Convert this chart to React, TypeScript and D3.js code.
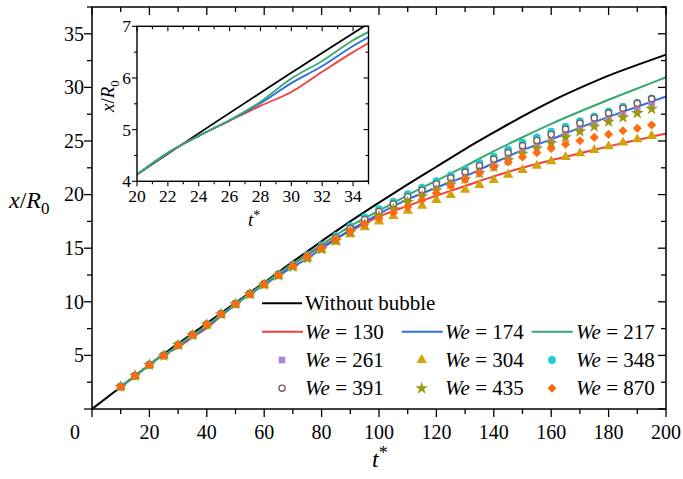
import React from "react";
import * as d3 from "d3";

// time axis samples
const tBlack = [0, 10, 20, 30, 40, 50, 60, 70, 80, 90, 100, 110, 120, 130, 140, 150, 160, 170, 180, 190, 200];
const xBlack = [0, 2.05, 4.13, 6.1, 8.0, 9.9, 11.8, 13.75, 15.65, 17.5, 19.25, 20.95, 22.6, 24.25, 25.8, 27.3, 28.7, 29.95, 31.1, 32.1, 33.05];

const tLine = [10, 15, 20, 22, 24, 26, 28, 30, 32, 34, 36, 38, 40, 45, 50, 55, 60, 65, 70, 75, 80, 85, 90, 95, 100, 110, 120, 130, 140, 150, 160, 170, 180, 190, 200];
const xWe130 = [2.08, 3.1, 4.13, 4.55, 4.88, 5.17, 5.46, 5.73, 6.12, 6.5, 6.85, 7.2, 7.55, 8.7, 9.8, 10.75, 11.7, 12.6, 13.5, 14.35, 15.15, 15.9, 16.6, 17.3, 17.95, 18.95, 19.9, 20.8, 21.7, 22.5, 23.2, 23.85, 24.5, 25.1, 25.7];
const xWe174 = [2.08, 3.1, 4.13, 4.55, 4.88, 5.18, 5.51, 5.9, 6.23, 6.62, 6.95, 7.3, 7.7, 8.7, 9.75, 10.7, 11.6, 12.45, 13.25, 14.05, 14.95, 15.85, 16.7, 17.45, 18.2, 19.55, 20.65, 21.7, 22.95, 24.15, 25.15, 26.25, 27.25, 28.2, 29.15];
const xWe217 = [2.08, 3.1, 4.13, 4.55, 4.88, 5.18, 5.54, 5.99, 6.33, 6.73, 7.05, 7.42, 7.8, 8.8, 9.8, 10.75, 11.7, 12.65, 13.55, 14.45, 15.35, 16.2, 17.05, 17.8, 18.5, 19.95, 21.3, 22.65, 24.05, 25.35, 26.6, 27.75, 28.85, 29.9, 30.95];

const tMark = [10, 15, 20, 25, 30, 35, 40, 45, 50, 55, 60, 65, 70, 75, 80, 85, 90, 95, 100, 105, 110, 115, 120, 125, 130, 135, 140, 145, 150, 155, 160, 165, 170, 175, 180, 185, 190, 195];
const xWe261 = [2.08, 3.1, 4.12, 4.98, 5.97, 6.9, 7.88, 8.85, 9.8, 10.72, 11.62, 12.5, 13.3, 14.1, 15.0, 15.85, 16.65, 17.45, 18.2, 18.88, 19.55, 20.12, 20.7, 21.25, 21.8, 22.35, 22.9, 23.5, 24.1, 24.6, 25.1, 25.6, 26.1, 26.6, 27.05, 27.55, 28.0, 28.5];
const xWe304 = [2.06, 3.08, 4.1, 4.95, 5.93, 6.85, 7.82, 8.8, 9.75, 10.66, 11.55, 12.4, 13.25, 14.05, 14.85, 15.6, 16.3, 16.95, 17.5, 18.0, 18.5, 18.95, 19.5, 19.95, 20.45, 20.9, 21.35, 21.85, 22.3, 22.7, 23.1, 23.5, 23.85, 24.15, 24.5, 24.85, 25.15, 25.47];
const xWe348 = [2.1, 3.12, 4.14, 5.0, 6.0, 6.93, 7.92, 8.9, 9.85, 10.78, 11.7, 12.6, 13.5, 14.35, 15.25, 16.15, 17.05, 17.9, 18.65, 19.35, 20.05, 20.65, 21.25, 21.8, 22.35, 22.95, 23.55, 24.2, 24.85, 25.34, 25.87, 26.34, 26.85, 27.3, 27.75, 28.2, 28.58, 28.98];
const xWe391 = [2.08, 3.1, 4.12, 4.98, 5.98, 6.92, 7.9, 8.88, 9.82, 10.75, 11.66, 12.55, 13.42, 14.25, 15.12, 16.0, 16.85, 17.68, 18.42, 19.12, 19.8, 20.4, 21.0, 21.55, 22.1, 22.7, 23.3, 23.9, 24.55, 25.05, 25.6, 26.1, 26.65, 27.15, 27.6, 28.05, 28.5, 28.93];
const xWe435 = [2.08, 3.1, 4.12, 4.97, 5.96, 6.89, 7.87, 8.84, 9.78, 10.7, 11.6, 12.45, 13.25, 14.05, 14.9, 15.7, 16.5, 17.25, 18.0, 18.65, 19.3, 19.85, 20.4, 20.95, 21.45, 22.0, 22.6, 23.2, 23.8, 24.3, 24.8, 25.35, 25.9, 26.35, 26.8, 27.2, 27.6, 28.0];
const xWe870 = [2.08, 3.1, 4.1, 4.97, 5.97, 6.9, 7.9, 8.86, 9.8, 10.7, 11.63, 12.5, 13.37, 14.27, 15.05, 15.85, 16.6, 17.25, 17.8, 18.3, 18.85, 19.5, 20.15, 20.8, 21.4, 22.0, 22.55, 23.05, 23.5, 23.9, 24.3, 24.69, 25.03, 25.34, 25.62, 25.96, 26.18, 26.5];

const xTicks = [0, 20, 40, 60, 80, 100, 120, 140, 160, 180, 200];
const yTicks = [5, 10, 15, 20, 25, 30, 35];
const insetXTicks = [20, 22, 24, 26, 28, 30, 32, 34];
const insetYTicks = [4, 5, 6, 7];

const FF = "Liberation Serif";
const ff = { fontFamily: "'Liberation Serif'" };

type LineSeries = { name: string; t: number[]; v: number[]; color: string; label: string };
type MarkSeries = { name: string; v: number[]; color: string; shape: string; label: string };

const lines: LineSeries[] = [
  { name: "nob", t: tBlack, v: xBlack, color: "#000000", label: "Without bubble" },
  { name: "130", t: tLine, v: xWe130, color: "#f2403e", label: "130" },
  { name: "174", t: tLine, v: xWe174, color: "#2a6fe0", label: "174" },
  { name: "217", t: tLine, v: xWe217, color: "#38a86e", label: "217" },
];

const marks: MarkSeries[] = [
  { name: "261", v: xWe261, color: "#b07fe6", shape: "square", label: "261" },
  { name: "304", v: xWe304, color: "#d4a20c", shape: "triangle", label: "304" },
  { name: "348", v: xWe348, color: "#22ccd0", shape: "circle", label: "348" },
  { name: "391", v: xWe391, color: "#7a5858", shape: "open", label: "391" },
  { name: "435", v: xWe435, color: "#9a9a12", shape: "star", label: "435" },
  { name: "870", v: xWe870, color: "#ff6a12", shape: "diamond", label: "870" },
];

function Marker({ shape, color, x, y }: { shape: string; color: string; x: number; y: number }) {
  if (shape === "circle") return <circle cx={x} cy={y} r={3.9} fill={color} />;
  if (shape === "open") return <circle cx={x} cy={y} r={3.1} fill="#fff" stroke={color} strokeWidth={1.3} />;
  if (shape === "square") return <rect x={x - 3.3} y={y - 3.3} width={6.6} height={6.6} fill={color} />;
  if (shape === "diamond")
    return <rect x={x - 3.2} y={y - 3.2} width={6.4} height={6.4} fill={color} transform={`rotate(45 ${x} ${y})`} />;
  const type = shape === "triangle" ? d3.symbolTriangle : d3.symbolStar;
  const size = shape === "triangle" ? 46 : 50;
  return <path d={d3.symbol(type, size)() || ""} fill={color} transform={`translate(${x},${y})`} />;
}

function T(props: any) {
  return <text fontFamily={FF} style={ff} {...props} />;
}

function WeText({ x, y, value, size }: { x: number; y: number; value: string; size: number }) {
  return (
    <T x={x} y={y} fontSize={size}>
      <tspan fontStyle="italic">We</tspan>
      <tspan> = {value}</tspan>
    </T>
  );
}

export default function App() {
  const W = 683, H = 479;
  const m = { l: 92, r: 666, t: 7, b: 409 };
  const x = d3.scaleLinear().domain([0, 200]).range([m.l, m.r]);
  const y = d3.scaleLinear().domain([0, 37.5]).range([m.b, m.t]);

  const ins = { l: 137, r: 368.5, t: 26.3, b: 181.3 };
  const ix = d3.scaleLinear().domain([20, 35]).range([ins.l, ins.r]);
  const iy = d3.scaleLinear().domain([4, 7]).range([ins.b, ins.t]);

  const mainLine = (s: LineSeries) =>
    d3.line<number>().x((_, i) => x(s.t[i])).y((d) => y(d)).curve(d3.curveMonotoneX)(s.v) || "";
  const insetLine = (s: LineSeries) =>
    d3.line<number>().x((_, i) => ix(s.t[i])).y((d) => iy(d)).curve(d3.curveMonotoneX)(s.v) || "";

  const minorX = d3.range(0, 201, 10);
  const minorY = d3.range(0, 37.6, 2.5);
  const iMinorX = d3.range(20, 35.01, 1);
  const iMinorY = d3.range(4, 7.01, 0.5);

  // legend layout
  const rowY = [303.3, 331.7, 360, 388.3];
  const colLine = [262, 401.7, 531.7];
  const colMark = [282, 421.7, 552];
  const colText = [305, 445, 576];
  const fs = 21;

  return (
    <div style={{ position: "absolute", left: 0, top: 0, fontFamily: "'Liberation Serif'" }}>
      <svg width={W} height={H}>
        <rect width={W} height={H} fill="#fff" />
        <defs>
          <clipPath id="insetClip">
            <rect x={ins.l} y={ins.t} width={ins.r - ins.l} height={ins.b - ins.t} />
          </clipPath>
        </defs>

        {/* main data */}
        {lines.map((s) => (
          <path key={s.name} d={mainLine(s)} fill="none" stroke={s.color} strokeWidth={2} />
        ))}
        {marks.map((s) => (
          <g key={s.name}>
            {s.v.map((v, i) => (
              <Marker key={i} shape={s.shape} color={s.color} x={x(tMark[i])} y={y(v)} />
            ))}
          </g>
        ))}

        {/* main frame and ticks */}
        <rect x={m.l} y={m.t} width={m.r - m.l} height={m.b - m.t} fill="none" stroke="#000" strokeWidth={1.5} />
        {minorX.map((t) => {
          const len = t % 20 === 0 ? 8 : 5;
          return (
            <g key={"mx" + t} stroke="#000" strokeWidth={1.3}>
              <line x1={x(t)} x2={x(t)} y1={m.b} y2={m.b + len} />
              <line x1={x(t)} x2={x(t)} y1={m.t} y2={m.t + len} />
            </g>
          );
        })}
        {minorY.map((v) => {
          const len = v % 5 === 0 ? 8 : 5;
          return (
            <g key={"my" + v} stroke="#000" strokeWidth={1.3}>
              <line x1={m.l - len} x2={m.l} y1={y(v)} y2={y(v)} />
              <line x1={m.r - len} x2={m.r} y1={y(v)} y2={y(v)} />
            </g>
          );
        })}
        {xTicks.map((t) => (
          <T key={"xl" + t} x={t === 0 ? 75 : x(t)} y={439} textAnchor="middle" fontSize={20}>
            {t}
          </T>
        ))}
        {yTicks.map((v) => (
          <T key={"yl" + v} x={84} y={y(v)} dy="0.34em" textAnchor="end" fontSize={20}>
            {v}
          </T>
        ))}
        <T x={9} y={208} fontSize={24}>
          <tspan fontStyle="italic">x</tspan>
          <tspan>/</tspan>
          <tspan fontStyle="italic">R</tspan>
          <tspan fontSize={17} dy={6}>0</tspan>
        </T>
        <T x={372} y={467} fontSize={24}>
          <tspan fontStyle="italic">t</tspan>
          <tspan fontSize={18} dy={-8}>*</tspan>
        </T>

        {/* legend */}
        <line x1={colLine[0]} x2={colLine[0] + 40} y1={rowY[0]} y2={rowY[0]} stroke="#000" strokeWidth={2} />
        <T x={colText[0]} y={rowY[0] + 7} fontSize={fs}>Without bubble</T>
        {lines.slice(1).map((s, i) => (
          <g key={"lg" + s.name}>
            <line x1={colLine[i]} x2={colLine[i] + 41} y1={rowY[1]} y2={rowY[1]} stroke={s.color} strokeWidth={2} />
            <WeText x={colText[i]} y={rowY[1] + 7} value={s.label} size={fs} />
          </g>
        ))}
        {marks.map((s, i) => {
          const row = 2 + Math.floor(i / 3);
          const col = i % 3;
          return (
            <g key={"lm" + s.name}>
              <Marker shape={s.shape} color={s.color} x={colMark[col]} y={rowY[row]} />
              <WeText x={colText[col]} y={rowY[row] + 7} value={s.label} size={fs} />
            </g>
          );
        })}

        {/* inset */}
        <rect x={ins.l} y={ins.t} width={ins.r - ins.l} height={ins.b - ins.t} fill="#fff" />
        <g clipPath="url(#insetClip)">
          {lines.map((s) => (
            <path key={"in" + s.name} d={insetLine(s)} fill="none" stroke={s.color} strokeWidth={1.8} />
          ))}
        </g>
        <rect x={ins.l} y={ins.t} width={ins.r - ins.l} height={ins.b - ins.t} fill="none" stroke="#000" strokeWidth={1.4} />
        {iMinorX.map((t) => {
          const len = Math.round(t) % 2 === 0 ? 5 : 3;
          return (
            <g key={"ix" + t} stroke="#000" strokeWidth={1.1}>
              <line x1={ix(t)} x2={ix(t)} y1={ins.b} y2={ins.b + len} />
              <line x1={ix(t)} x2={ix(t)} y1={ins.t} y2={ins.t + len} />
            </g>
          );
        })}
        {iMinorY.map((v) => {
          const len = Math.abs(v - Math.round(v)) < 1e-6 ? 5 : 3;
          return (
            <g key={"iy" + v} stroke="#000" strokeWidth={1.1}>
              <line x1={ins.l - len} x2={ins.l} y1={iy(v)} y2={iy(v)} />
              <line x1={ins.r - len} x2={ins.r} y1={iy(v)} y2={iy(v)} />
            </g>
          );
        })}
        {insetXTicks.map((t) => (
          <T key={"ixl" + t} x={ix(t)} y={202} textAnchor="middle" fontSize={17.5}>
            {t}
          </T>
        ))}
        {insetYTicks.map((v) => (
          <T key={"iyl" + v} x={131} y={iy(v)} dy="0.34em" textAnchor="end" fontSize={17.5}>
            {v}
          </T>
        ))}
        <T x={248} y={226} fontSize={19}>
          <tspan fontStyle="italic">t</tspan>
          <tspan fontSize={14} dy={-6}>*</tspan>
        </T>
        <T transform="translate(114,112) rotate(-90)" fontSize={19}>
          <tspan fontStyle="italic">x</tspan>
          <tspan>/</tspan>
          <tspan fontStyle="italic">R</tspan>
          <tspan fontSize={13} dy={5}>0</tspan>
        </T>
      </svg>
    </div>
  );
}
